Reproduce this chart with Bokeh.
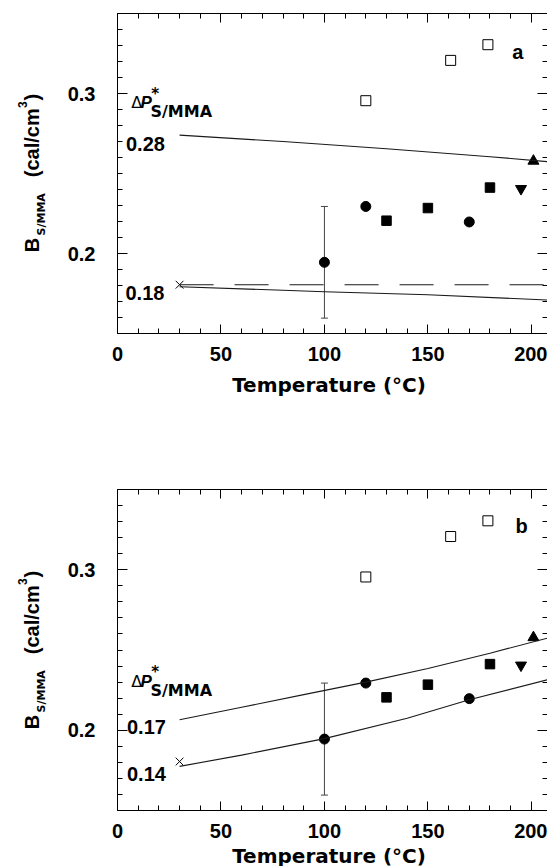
from bokeh.plotting import figure
from bokeh.layouts import column
from bokeh.models import (Range1d, LinearAxis, FixedTicker, Label, Whisker,
                          ColumnDataSource, TeeHead)
from bokeh.embed import file_html
from bokeh.resources import INLINE
import math

# ---------------- data ----------------
x_lo, x_hi = 0, 207.8
y_lo, y_hi = 0.15, 0.35
x_ticks = [0, 50, 100, 150, 200]
x_minor = [0, 10, 20, 30, 40, 50, 60, 70, 80, 90, 100, 110, 120, 130, 140,
           150, 160, 170, 180, 190, 200]
y_ticks = [0.2, 0.3]
y_minor = [0.15, 0.16, 0.17, 0.18, 0.19, 0.20, 0.21, 0.22, 0.23, 0.24, 0.25,
           0.26, 0.27, 0.28, 0.29, 0.30, 0.31, 0.32, 0.33, 0.34, 0.35]

open_sq_x = [120, 161, 179]
open_sq_y = [0.2955, 0.3207, 0.3305]
circ_x = [100, 120, 170]
circ_y = [0.1945, 0.2294, 0.2197]
fsq_x = [130, 150, 180]
fsq_y = [0.2205, 0.2284, 0.2412]
dtri_x = [195]
dtri_y = [0.2405]
utri_x = [201]
utri_y = [0.2578]
cross_x = [30]
cross_y = [0.1805]
err_x = [100]
err_lo = [0.1596]
err_hi = [0.2294]

# panel a model curves
a_up_x = [30, 80, 130, 180, 208]
a_up_y = [0.2740, 0.2700, 0.2655, 0.2605, 0.2574]
a_lo_x = [30, 80, 100, 150, 208]
a_lo_y = [0.1792, 0.1770, 0.1761, 0.1742, 0.1709]
a_dash_x = [30, 208]
a_dash_y = [0.1805, 0.1805]

# panel b model curves
b_up_x = [30, 60, 90, 120, 150, 180, 208]
b_up_y = [0.2065, 0.2143, 0.2222, 0.2300, 0.2385, 0.2480, 0.2575]
b_lo_x = [30, 60, 100, 140, 170, 208]
b_lo_y = [0.1775, 0.1845, 0.1948, 0.2075, 0.2190, 0.2315]

NUM_FONT = "Liberation Sans"
WIDE_FONT = "DejaVu Sans"

W = 547
BOX_LEFT = 117          # pixel column of x = 0
BOX_W = W - BOX_LEFT    # plot box reaches the right edge of the page


def style_axis(ax, major_len, show_labels, standoff=0, line=True):
    ax.major_tick_in = major_len
    ax.major_tick_out = 0
    ax.minor_tick_in = 5
    ax.minor_tick_out = 0
    ax.major_tick_line_color = "black"
    ax.minor_tick_line_color = "black"
    ax.major_tick_line_width = 1
    ax.minor_tick_line_width = 1
    ax.axis_line_color = "black" if line else None
    ax.axis_line_width = 1
    ax.major_label_text_font = NUM_FONT
    ax.major_label_text_font_style = "bold"
    if show_labels:
        ax.major_label_text_font_size = "20px"
        ax.major_label_text_color = "black"
        ax.major_label_standoff = standoff
    else:
        ax.major_label_text_font_size = "1px"
        ax.major_label_text_color = None
        ax.major_label_standoff = 0


class Panel:
    def __init__(self, height, box_top, box_h):
        self.h = height
        self.base = height - (box_top + box_h)   # screen y of the box bottom
        xs = BOX_W / (x_hi - x_lo)
        ys = box_h / (y_hi - y_lo)
        xr = Range1d(x_lo - BOX_LEFT / xs, x_hi)
        yr = Range1d(y_lo - self.base / ys, y_hi + box_top / ys)
        p = figure(width=W, height=height, x_range=xr, y_range=yr,
                   output_backend="svg", toolbar_location=None,
                   x_axis_location=None, y_axis_location=None,
                   min_border=0, min_border_left=0, min_border_right=0,
                   min_border_top=0, min_border_bottom=0)
        p.outline_line_color = None
        p.background_fill_color = "white"
        p.border_fill_color = "white"
        p.grid.visible = False

        xt = FixedTicker(ticks=x_ticks, minor_ticks=x_minor)
        yt = FixedTicker(ticks=y_ticks, minor_ticks=y_minor)
        bottom = LinearAxis(fixed_location=y_lo, bounds=(x_lo, x_hi), ticker=xt)
        top = LinearAxis(fixed_location=y_hi, bounds=(x_lo, x_hi), ticker=xt)
        left = LinearAxis(fixed_location=x_lo, bounds=(y_lo, y_hi), ticker=yt)
        right = LinearAxis(fixed_location=x_hi, bounds=(y_lo, y_hi), ticker=yt)
        p.add_layout(bottom, "below")
        p.add_layout(top, "above")
        p.add_layout(left, "left")
        p.add_layout(right, "right")
        style_axis(bottom, 9, True, standoff=13)
        style_axis(top, 9, False)
        style_axis(left, 10, True, standoff=22)
        style_axis(right, 10, False, line=False)
        self.p = p

    def text(self, text, dx, dy, size, font=NUM_FONT, style="bold",
             angle=0.0, align="left"):
        # dx, dy: pixels from the plot box's bottom-left corner (right / up)
        self.p.add_layout(Label(x=BOX_LEFT + dx, y=self.base + dy,
                                x_units="screen", y_units="screen",
                                text=text, text_font=font,
                                text_font_style=style,
                                text_font_size=f"{size}px",
                                text_color="black", angle=angle,
                                text_align=align, text_baseline="alphabetic"))

    def common(self, title_dy):
        p = self.p
        src = ColumnDataSource(dict(x=err_x, lo=err_lo, hi=err_hi))
        p.add_layout(Whisker(source=src, base="x", lower="lo", upper="hi",
                             line_color="#444444", line_width=1, level="underlay",
                             lower_head=TeeHead(size=7, line_color="#444444", line_width=1),
                             upper_head=TeeHead(size=7, line_color="#444444", line_width=1)))
        p.scatter(open_sq_x, open_sq_y, marker="square", size=10,
                  fill_color="white", line_color="black", line_width=1)
        p.scatter(circ_x, circ_y, marker="circle", size=10, fill_color="black",
                  line_color="black")
        p.scatter(fsq_x, fsq_y, marker="square", size=9.5, fill_color="black",
                  line_color="black")
        p.scatter(dtri_x, dtri_y, marker="inverted_triangle", size=11,
                  fill_color="black", line_color="black")
        p.scatter(utri_x, utri_y, marker="triangle", size=11,
                  fill_color="black", line_color="black")
        p.scatter(cross_x, cross_y, marker="x", size=11, line_color="black",
                  line_width=1)

        rot = math.pi / 2
        self.text("B", -85.3, 81.3, 20, angle=rot)
        self.text("S/MMA", -76.3, 98, 11, font=WIDE_FONT, angle=rot)
        self.text("(cal/cm", -85.3, 156.3, 20, angle=rot)
        self.text("3", -95.3, 225.5, 12, angle=rot)
        self.text(")", -85.3, 233, 20, angle=rot)
        self.text("Temperature  (\u00b0C)", 215, title_dy, 20, font=WIDE_FONT,
                  align="center")

    def delta_label(self, dy):
        self.text("\u0394", 13.7, dy, 16, font=WIDE_FONT, style="normal")
        self.text("P", 23, dy, 17, style="bold italic")
        self.text("*", 33.7, dy + 8.6, 15, font=WIDE_FONT)
        self.text("S/MMA", 33, dy - 9, 16, font=WIDE_FONT)


# ---------------- panel a ----------------
A = Panel(400, 13, 320)
A.common(-51)
A.p.line(a_up_x, a_up_y, line_color="#1a1a1a", line_width=1.1)
A.p.line(a_lo_x, a_lo_y, line_color="#1a1a1a", line_width=1.1)
A.p.line(a_dash_x, a_dash_y, line_color="#1a1a1a", line_width=1.1,
         line_dash="34 21")
A.delta_label(231.3)
A.text("0.28", 8.5, 189.7, 20)
A.text("0.18", 8, 40.5, 20)
A.text("a", 394.7, 281.3, 20)

# ---------------- panel b ----------------
B = Panel(466, 89, 321)
B.common(-45)
B.p.line(b_up_x, b_up_y, line_color="#1a1a1a", line_width=1.1)
B.p.line(b_lo_x, b_lo_y, line_color="#1a1a1a", line_width=1.1)
B.delta_label(129.5)
B.text("0.17", 9.5, 83.5, 20)
B.text("0.14", 9.5, 36.7, 20)
B.text("b", 398, 284.3, 20)

layout = column(A.p, B.p, spacing=0)
open("out.html", "w").write(file_html(layout, INLINE))
